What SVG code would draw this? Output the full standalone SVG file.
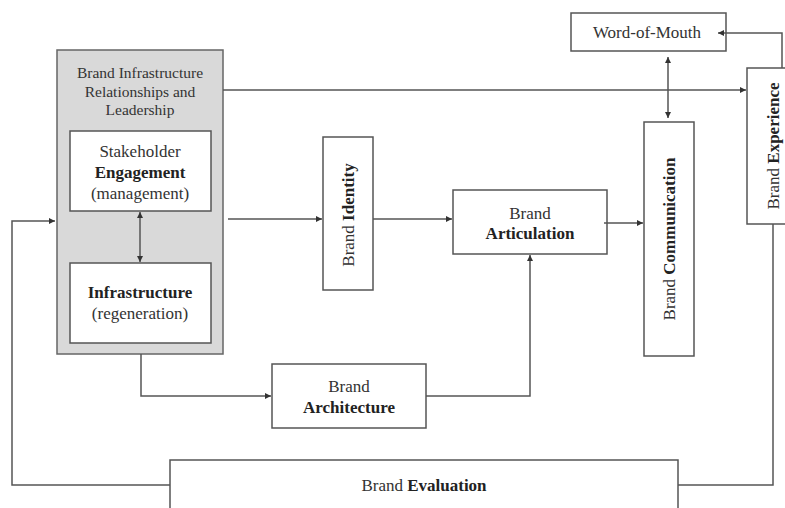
<svg xmlns="http://www.w3.org/2000/svg" width="785" height="508" viewBox="0 0 785 508">
<defs>
<style>
.box{fill:#ffffff;stroke:#555555;stroke-width:1.5}
.gray{fill:#d9d9d9;stroke:#666666;stroke-width:1.5}
.ln{fill:none;stroke:#555555;stroke-width:1.5}
text{font-family:"Liberation Serif","Times New Roman",serif;font-size:17px;fill:#333333;text-anchor:middle}
.t{font-size:15.5px}
.b{font-weight:bold;fill:#222222}
</style>
<marker id="ah" viewBox="0 0 10 10" refX="10" refY="5" markerWidth="7" markerHeight="6" markerUnits="userSpaceOnUse" orient="auto-start-reverse">
<path d="M0,0 L10,5 L0,10 z" fill="#333333"/>
</marker>
</defs>
<g id="infrastructure-group">
<rect class="gray" x="57" y="50" width="166" height="304"/>
<text class="t" x="140" y="78">Brand Infrastructure</text>
<text class="t" x="140" y="97">Relationships and</text>
<text class="t" x="140" y="115">Leadership</text>
</g>
<g id="stakeholder">
<rect class="box" x="70" y="131" width="141" height="80"/>
<text x="140" y="157">Stakeholder</text>
<text class="b" x="140" y="178">Engagement</text>
<text x="140" y="199">(management)</text>
</g>
<g id="infrastructure">
<rect class="box" x="70" y="263" width="141" height="80"/>
<text class="b" x="140" y="298">Infrastructure</text>
<text x="140" y="319">(regeneration)</text>
</g>
<g id="identity">
<rect class="box" x="323" y="137" width="50" height="153"/>
<text transform="translate(348,215) rotate(-90)" dominant-baseline="central">Brand <tspan class="b">Identity</tspan></text>
</g>
<g id="articulation">
<rect class="box" x="453" y="190" width="154" height="64"/>
<text x="530" y="219">Brand</text>
<text class="b" x="530" y="239">Articulation</text>
</g>
<g id="communication">
<rect class="box" x="644" y="122" width="50" height="234"/>
<text transform="translate(669,239) rotate(-90)" dominant-baseline="central">Brand <tspan class="b">Communication</tspan></text>
</g>
<g id="word-of-mouth">
<rect class="box" x="571" y="13" width="155" height="38"/>
<text x="647" y="38">Word-of-Mouth</text>
</g>
<g id="experience">
<rect class="box" x="747" y="68" width="45" height="156"/>
<text transform="translate(773,146) rotate(-90)" dominant-baseline="central">Brand <tspan class="b">Experience</tspan></text>
</g>
<g id="architecture">
<rect class="box" x="272" y="364" width="154" height="64"/>
<text x="349" y="392">Brand</text>
<text class="b" x="349" y="413">Architecture</text>
</g>
<g id="evaluation">
<rect class="box" x="170" y="460" width="508" height="60"/>
<text x="424" y="491">Brand <tspan class="b">Evaluation</tspan></text>
</g>
<g id="connectors">
<line class="ln" x1="140" y1="212" x2="140" y2="262" marker-start="url(#ah)" marker-end="url(#ah)"/>
<line class="ln" x1="223" y1="90" x2="746" y2="90" marker-end="url(#ah)"/>
<line class="ln" x1="228" y1="219" x2="322" y2="219" marker-end="url(#ah)"/>
<line class="ln" x1="373" y1="219" x2="452" y2="219" marker-end="url(#ah)"/>
<line class="ln" x1="604" y1="223" x2="643" y2="223" marker-end="url(#ah)"/>
<line class="ln" x1="668" y1="57" x2="668" y2="118" marker-start="url(#ah)" marker-end="url(#ah)"/>
<polyline class="ln" points="782,68 782,33 718,33" marker-end="url(#ah)"/>
<polyline class="ln" points="141,354 141,396 271,396" marker-end="url(#ah)"/>
<polyline class="ln" points="426,396 530,396 530,255" marker-end="url(#ah)"/>
<polyline class="ln" points="773,224 773,485 678,485"/>
<polyline class="ln" points="170,485 12,485 12,221 55,221" marker-end="url(#ah)"/>
</g>
</svg>
